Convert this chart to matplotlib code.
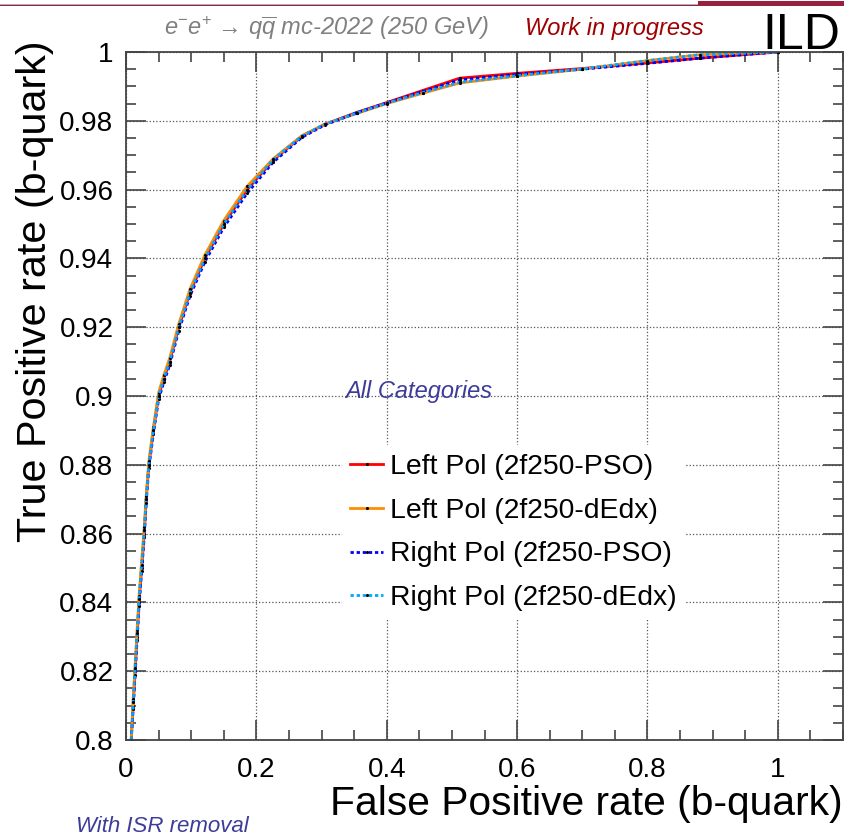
import numpy as np
import matplotlib
matplotlib.use('Agg')
import matplotlib.pyplot as plt
from matplotlib.patches import Rectangle
from matplotlib.ticker import MultipleLocator, FuncFormatter

plt.rcParams['font.family'] = ['Liberation Sans', 'DejaVu Sans']
plt.rcParams['mathtext.fontset'] = 'custom'
plt.rcParams['mathtext.rm'] = 'Liberation Sans'
plt.rcParams['mathtext.it'] = 'Liberation Sans:italic'

# ROC curves, b-quark tagging
fpr = [0.008, 0.011, 0.014, 0.017, 0.020, 0.024, 0.028, 0.031, 0.035, 0.042,
       0.050, 0.058, 0.067, 0.081, 0.098, 0.121, 0.150, 0.186, 0.226, 0.270,
       0.305, 0.355, 0.400, 0.455, 0.512, 0.600, 0.700, 0.800, 0.880, 1.000]

tpr_left_pso = [0.800, 0.810, 0.820, 0.830, 0.840, 0.850, 0.860, 0.870, 0.880, 0.890,
                0.900, 0.905, 0.910, 0.920, 0.930, 0.940, 0.950, 0.960, 0.9686, 0.9755,
                0.9790, 0.9825, 0.9853, 0.9888, 0.9924, 0.9938, 0.9952, 0.9968, 0.9982, 1.000]
tpr_left_dedx = [0.800, 0.812, 0.822, 0.832, 0.842, 0.852, 0.862, 0.871, 0.881, 0.891,
                 0.901, 0.906, 0.911, 0.921, 0.931, 0.941, 0.951, 0.961, 0.9690, 0.9757,
                 0.9790, 0.9822, 0.9850, 0.9880, 0.9910, 0.9930, 0.9950, 0.9975, 0.9992, 1.000]
tpr_right_pso = [0.800, 0.809, 0.819, 0.829, 0.839, 0.849, 0.859, 0.869, 0.879, 0.889,
                 0.899, 0.904, 0.909, 0.919, 0.929, 0.939, 0.949, 0.959, 0.9680, 0.9752,
                 0.9788, 0.9824, 0.9852, 0.9885, 0.9919, 0.9935, 0.9950, 0.9967, 0.9982, 1.000]
tpr_right_dedx = [0.800, 0.811, 0.821, 0.831, 0.841, 0.851, 0.861, 0.870, 0.880, 0.890,
                  0.900, 0.905, 0.910, 0.920, 0.930, 0.940, 0.950, 0.960, 0.9688, 0.9756,
                  0.9790, 0.9823, 0.9851, 0.9882, 0.9912, 0.9931, 0.9951, 0.9975, 0.9992, 1.000]

labels = ['Left Pol (2f250-PSO)', 'Left Pol (2f250-dEdx)',
          'Right Pol (2f250-PSO)', 'Right Pol (2f250-dEdx)']
colors = ['#ff0000', '#ff8c00', '#0000ff', '#00a8ff']
styles = ['-', '-', (0, (1.2, 1.0)), (0, (1.2, 1.0))]

fig = plt.figure(figsize=(8.45, 8.38), dpi=100)
W, H = 845, 838
ax = fig.add_axes([126 / W, 1 - 740 / H, (843 - 126) / W, (740 - 52) / H])

for tpr, lab, c, ls in zip([tpr_left_pso, tpr_left_dedx, tpr_right_pso, tpr_right_dedx],
                           labels, colors, styles):
    ax.plot(fpr, tpr, color=c, ls=ls, lw=2.0, label=lab,
            marker='.', ms=2.5, mfc='k', mec='k')

ax.set_xlim(0, 1.1)
ax.set_ylim(0.8, 1.0)
ax.xaxis.set_major_locator(MultipleLocator(0.2))
ax.xaxis.set_minor_locator(MultipleLocator(0.05))
ax.yaxis.set_major_locator(MultipleLocator(0.02))
ax.yaxis.set_minor_locator(MultipleLocator(0.005))
ax.xaxis.set_major_formatter(FuncFormatter(lambda v, p: f'{v:.1f}'.rstrip('0').rstrip('.') if v else '0'))
ax.yaxis.set_major_formatter(FuncFormatter(lambda v, p: f'{v:.2f}'.rstrip('0').rstrip('.')))
ax.tick_params(which='both', direction='in', top=True, right=True, colors='#444444',
               labelcolor='black', labelsize=20, width=1.2)
ax.tick_params(which='major', length=14.5)
ax.tick_params(which='minor', length=7.2)
ax.tick_params(axis='x', pad=12)
ax.tick_params(axis='y', pad=9)
ax.grid(which='major', ls=':', color='#555555', lw=0.9)
for s in ax.spines.values():
    s.set_color('#444444')
    s.set_linewidth(1.3)

leg = ax.legend(loc='upper left', bbox_to_anchor=(0.281, 0.449), frameon=True, fontsize=20.4,
                handlelength=1.17, handletextpad=0.25, labelspacing=0.63, borderpad=0.3)
leg.get_frame().set_edgecolor('none')
leg.get_frame().set_facecolor('white')
leg.get_frame().set_alpha(1)

fig.text(35 / W, 1 - 40 / H, 'True Positive rate (b-quark)', rotation=90,
         ha='center', va='top', fontsize=29.8)
fig.text(843 / W, 1 - 815 / H, 'False Positive rate (b-quark)', ha='right',
         va='baseline', fontsize=29.3)

fig.text(327 / W, 1 - 35 / H, 'e$^{-}$e$^{+}$ \u2192 q$\\overline{q}$ mc-2022 (250 GeV)',
         ha='center', va='baseline', fontsize=17, color='#808080', style='italic')
fig.text(525 / W, 1 - 35 / H, 'Work in progress', ha='left', va='baseline',
         fontsize=17, color='#a00000', style='italic')
fig.text(840 / W, 1 - 49 / H, 'ILD', ha='right', va='baseline', fontsize=36)
fig.text(345 / W, 1 - 398 / H, 'All Categories', ha='left', va='baseline',
         fontsize=17, color='#3d3d99', style='italic')
fig.text(76 / W, 1 - 832 / H, 'With ISR removal', ha='left', va='baseline',
         fontsize=16, color='#3d3d99', style='italic')

# top banner
fig.add_artist(Rectangle((0, 1 - 5 / H), 1, 1.3 / H, transform=fig.transFigure,
                         color='#b0b0b0', lw=0))
fig.add_artist(Rectangle((0, 1 - 6.5 / H), 698 / W, 1.5 / H, transform=fig.transFigure,
                         color='#98203f', lw=0))
fig.add_artist(Rectangle((698 / W, 1 - 6.5 / H), 1 - 698 / W, 5.5 / H,
                         transform=fig.transFigure, color='#98203f', lw=0))

fig.savefig('out.png', dpi=100)
